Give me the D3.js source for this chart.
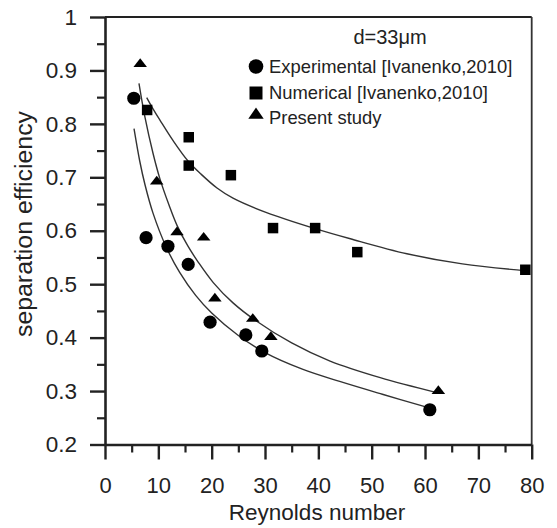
<!DOCTYPE html>
<html>
<head>
<meta charset="utf-8">
<script src="https://cdn.jsdelivr.net/npm/d3@7"></script>
<style>
  html, body { margin: 0; padding: 0; background: #fff; }
  svg { display: block; }
  text { font-family: "Liberation Sans", Arial, Helvetica, sans-serif; fill: #222; }
</style>
</head>
<body>
<svg id="chart" width="557" height="528"></svg>
<script>
// ---- data ----
const expRe  = [5.4, 7.7, 11.8, 15.6, 19.7, 26.4, 29.4, 60.9];
const expEff = [0.848, 0.587, 0.571, 0.537, 0.429, 0.405, 0.375, 0.265];

const numRe  = [7.9, 15.7, 15.7, 23.6, 31.5, 39.4, 47.3, 78.8];
const numEff = [0.826, 0.775, 0.722, 0.704, 0.605, 0.605, 0.560, 0.527];

const preRe  = [6.6, 9.7, 13.5, 18.5, 20.6, 27.7, 31.1, 62.5];
const preEff = [0.912, 0.692, 0.597, 0.587, 0.473, 0.435, 0.401, 0.300];

// fitted trend curves, sampled along the lines in the picture
const fitExpRe  = [5.44, 6.5, 7.5, 9, 11.5, 14, 17, 20, 25, 30, 37, 44, 52, 60.3];
const fitExpEff = [0.791, 0.731, 0.686, 0.633, 0.569, 0.522, 0.479, 0.446, 0.404, 0.372, 0.341, 0.318, 0.294, 0.270];

const fitPreRe  = [6.37, 7.5, 9, 10.3, 12, 13.5, 15.5, 17.5, 20.3, 24, 28.1, 35, 42.2, 51.6, 62.2];
const fitPreEff = [0.876, 0.812, 0.745, 0.697, 0.648, 0.610, 0.572, 0.541, 0.503, 0.465, 0.433, 0.390, 0.356, 0.325, 0.297];

const fitNumRe  = [7.82, 9, 10.3, 12.8, 15.6, 18, 21, 24, 30.3, 39.4, 46, 56.6, 67, 79];
const fitNumEff = [0.849, 0.828, 0.807, 0.768, 0.730, 0.706, 0.680, 0.661, 0.634, 0.604, 0.585, 0.557, 0.538, 0.525];

const xTicks = [0, 10, 20, 30, 40, 50, 60, 70, 80];
const yTicks = [0.2, 0.3, 0.4, 0.5, 0.6, 0.7, 0.8, 0.9, 1];
const xMinor = [5, 15, 25, 35, 45, 55, 65, 75];
const yMinor = [0.25, 0.35, 0.45, 0.55, 0.65, 0.75, 0.85, 0.95];

const legendLabels = ["Experimental [Ivanenko,2010]", "Numerical [Ivanenko,2010]", "Present study"];
const annotation = "d=33\u03bcm";
const xTitle = "Reynolds number";
const yTitle = "separation efficiency";

// ---- drawing ----
const svg = d3.select("#chart");
const x = d3.scaleLinear().domain([0, 80]).range([105, 531.7]);
const y = d3.scaleLinear().domain([0.2, 1]).range([444.5, 17]);

// frame top/right
svg.append("line").attr("x1", x(0)).attr("x2", x(80)).attr("y1", y(1)).attr("y2", y(1))
  .attr("stroke", "#222").attr("stroke-width", 1.8);
svg.append("line").attr("x1", x(80)).attr("x2", x(80)).attr("y1", y(1)).attr("y2", y(0.2))
  .attr("stroke", "#333").attr("stroke-width", 1.8);

// minor ticks
const xMinorAxis = d3.axisBottom(x).tickValues(xMinor).tickSize(8).tickFormat("");
const yMinorAxis = d3.axisLeft(y).tickValues(yMinor).tickSize(8).tickFormat("");
svg.append("g").attr("transform", `translate(0,${y(0.2)})`).call(xMinorAxis)
  .call(g => g.select(".domain").remove())
  .call(g => g.selectAll("line").attr("stroke", "#222").attr("stroke-width", 2.2));
svg.append("g").attr("transform", `translate(${x(0)},0)`).call(yMinorAxis)
  .call(g => g.select(".domain").remove())
  .call(g => g.selectAll("line").attr("stroke", "#222").attr("stroke-width", 2.2));

// major axes
const xAxis = d3.axisBottom(x).tickValues(xTicks).tickSize(15).tickSizeOuter(0).tickPadding(18).tickFormat(d3.format("d"));
const yAxis = d3.axisLeft(y).tickValues(yTicks).tickSize(15).tickSizeOuter(0).tickPadding(13)
  .tickFormat(d => d === 1 ? "1" : d3.format(".1f")(d));
svg.append("g").attr("transform", `translate(0,${y(0.2)})`).call(xAxis)
  .call(g => g.select(".domain").attr("stroke", "#222").attr("stroke-width", 2.6))
  .call(g => g.selectAll("line").attr("stroke", "#222").attr("stroke-width", 2.4))
  .call(g => g.selectAll("text").attr("font-size", 22).attr("fill", "#333")
    .style("font-family", "'Liberation Sans', Arial, sans-serif"));
svg.append("g").attr("transform", `translate(${x(0)},0)`).call(yAxis)
  .call(g => g.select(".domain").attr("stroke", "#222").attr("stroke-width", 2.6))
  .call(g => g.selectAll("line").attr("stroke", "#222").attr("stroke-width", 2.4))
  .call(g => g.selectAll("text").attr("font-size", 22.5).attr("fill", "#333")
    .style("font-family", "'Liberation Sans', Arial, sans-serif"));

// axis titles
svg.append("text").attr("x", 317).attr("y", 520).attr("text-anchor", "middle")
  .attr("font-size", 22.5).attr("fill", "#333").text(xTitle);
svg.append("text").attr("transform", `translate(32,224) rotate(-90)`).attr("text-anchor", "middle")
  .attr("font-size", 23).attr("fill", "#333")
  .attr("textLength", 226).attr("lengthAdjust", "spacingAndGlyphs").text(yTitle);

// curves
const line = d3.line().x(d => x(d[0])).y(d => y(d[1])).curve(d3.curveCatmullRom.alpha(0.5));
[[fitExpRe, fitExpEff], [fitPreRe, fitPreEff], [fitNumRe, fitNumEff]].forEach(([xs, ys]) => {
  svg.append("path").datum(xs.map((v, i) => [v, ys[i]])).attr("d", line)
    .attr("fill", "none").attr("stroke", "#333").attr("stroke-width", 1.4);
});

// markers
const circ = d3.symbol().type(d3.symbolCircle).size(Math.PI * 6.6 * 6.6);
const sq = d3.symbol().type(d3.symbolSquare).size(10.5 * 10.5);
const tri = d3.symbol().type(d3.symbolTriangle).size(60);

svg.append("g").selectAll("path").data(expRe.map((v, i) => [v, expEff[i]])).join("path")
  .attr("d", circ).attr("transform", d => `translate(${x(d[0])},${y(d[1])})`).attr("fill", "#000");
svg.append("g").selectAll("path").data(numRe.map((v, i) => [v, numEff[i]])).join("path")
  .attr("d", sq).attr("transform", d => `translate(${x(d[0])},${y(d[1])})`).attr("fill", "#000");
svg.append("g").selectAll("path").data(preRe.map((v, i) => [v, preEff[i]])).join("path")
  .attr("d", tri).attr("transform", d => `translate(${x(d[0])},${y(d[1])}) scale(1.15,0.85)`).attr("fill", "#000");

// annotation + legend
svg.append("text").attr("x", 390).attr("y", 44).attr("text-anchor", "middle")
  .attr("font-size", 20).attr("fill", "#333").text(annotation);
const legSyms = [
  d3.symbol().type(d3.symbolCircle).size(Math.PI * 7.3 * 7.3),
  d3.symbol().type(d3.symbolSquare).size(13 * 13),
  d3.symbol().type(d3.symbolTriangle).size(85)
];
const legY = [66.5, 93, 115];
legendLabels.forEach((lab, i) => {
  svg.append("path").attr("d", legSyms[i])
    .attr("transform", `translate(256,${legY[i]})` + (i === 2 ? " scale(1.1,0.92)" : ""))
    .attr("fill", "#000");
  svg.append("text").attr("x", 269).attr("y", legY[i] + 6 + (i === 2 ? 3 : 0))
    .attr("font-size", 18.4).attr("fill", "#333").text(lab);
});
</script>
</body>
</html>
